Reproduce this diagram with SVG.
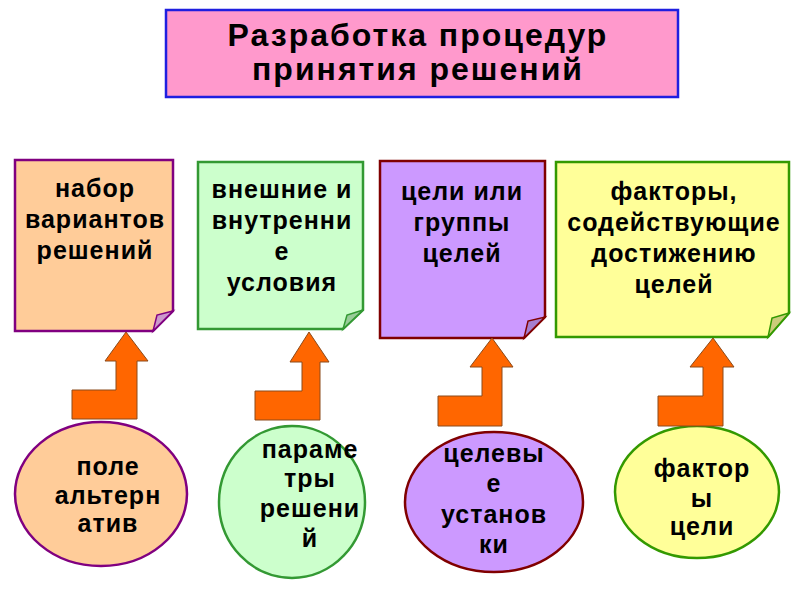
<svg xmlns="http://www.w3.org/2000/svg" width="800" height="600" viewBox="0 0 800 600">
<style>
text{font-family:"Liberation Sans",Arial,sans-serif;font-weight:bold;fill:#000;text-anchor:middle}
.t{font-size:32px;letter-spacing:2px}
.b{font-size:25px;letter-spacing:1px}
.arrow{fill:#FF6600;stroke:#8B4A1A;stroke-width:1}
.s{stroke-width:2.5}
</style>
<rect width="800" height="600" fill="#fff"/>
<g id="title">
<rect x="166" y="10" width="512" height="87" fill="#FF99CC" stroke="#1F1FE0" stroke-width="2.5"/>
<text class="t" x="418" y="46">Разработка процедур</text>
<text class="t" x="418" y="80">принятия решений</text>
</g>
<g id="box1">
<polygon class="s" points="15,160 173,160 173,311 153,331 15,331" fill="#FFCC99" stroke="#800080"/>
<polygon points="153,331 173,311 157,315" fill="#CC99CC" stroke="#800080" stroke-width="1.5"/>
<text class="b" x="95" y="197">набор</text>
<text class="b" x="95" y="228">вариантов</text>
<text class="b" x="95" y="259">решений</text>
</g>
<g id="box2">
<polygon class="s" points="198,162 363,162 363,310 343,329 198,329" fill="#CCFFCC" stroke="#339933"/>
<polygon points="343,329 363,310 347,315" fill="#99CC99" stroke="#339933" stroke-width="1.5"/>
<text class="b" x="282" y="198">внешние и</text>
<text class="b" x="282" y="229">внутренни</text>
<text class="b" x="282" y="260">е</text>
<text class="b" x="282" y="291">условия</text>
</g>
<g id="box3">
<polygon class="s" points="380,161 545,161 545,317 524,338 380,338" fill="#CC99FF" stroke="#800000"/>
<polygon points="524,338 545,317 528,321" fill="#A67FD0" stroke="#800000" stroke-width="1.5"/>
<text class="b" x="462" y="200">цели или</text>
<text class="b" x="462" y="231">группы</text>
<text class="b" x="462" y="262">целей</text>
</g>
<g id="box4">
<polygon class="s" points="556,162 789,162 789,313 768,337 556,337" fill="#FFFF99" stroke="#339900"/>
<polygon points="768,337 789,313 772,318" fill="#CCCC7A" stroke="#339900" stroke-width="1.5"/>
<text class="b" x="674" y="200">факторы,</text>
<text class="b" x="674" y="231">содействующие</text>
<text class="b" x="674" y="262">достижению</text>
<text class="b" x="674" y="293">целей</text>
</g>
<g id="ell1">
<ellipse class="s" cx="101" cy="494" rx="86" ry="72" fill="#FFCC99" stroke="#800080"/>
<text class="b" x="108" y="475">поле</text>
<text class="b" x="108" y="504">альтерн</text>
<text class="b" x="108" y="532">атив</text>
</g>
<g id="ell2">
<ellipse class="s" cx="292" cy="502" rx="73" ry="76" fill="#CCFFCC" stroke="#339933"/>
<text class="b" x="310" y="458">параме</text>
<text class="b" x="310" y="487">тры</text>
<text class="b" x="310" y="517">решени</text>
<text class="b" x="310" y="547">й</text>
</g>
<g id="ell3">
<ellipse class="s" cx="494" cy="502" rx="89" ry="70" fill="#CC99FF" stroke="#800000"/>
<text class="b" x="494" y="462">целевы</text>
<text class="b" x="494" y="492">е</text>
<text class="b" x="494" y="523">установ</text>
<text class="b" x="494" y="553">ки</text>
</g>
<g id="ell4">
<ellipse class="s" cx="697" cy="492" rx="82" ry="66" fill="#FFFF99" stroke="#339900"/>
<text class="b" x="702" y="477">фактор</text>
<text class="b" x="702" y="507">ы</text>
<text class="b" x="702" y="535">цели</text>
</g>
<g id="connectors">
<polygon class="arrow" points="126,332 148,361 137,361 137,419 72,419 72,390 116,390 116,361 105,361"/>
<polygon class="arrow" points="309,332 329,362 320,362 320,420 255,420 255,391 302,391 302,362 290,362"/>
<polygon class="arrow" points="492,338 513,367 502,367 502,426 438,426 438,396 482,396 482,367 470,367"/>
<polygon class="arrow" points="713,338 734,367 723,367 723,426 658,426 658,396 703,396 703,367 690,367"/>
</g>
</svg>
